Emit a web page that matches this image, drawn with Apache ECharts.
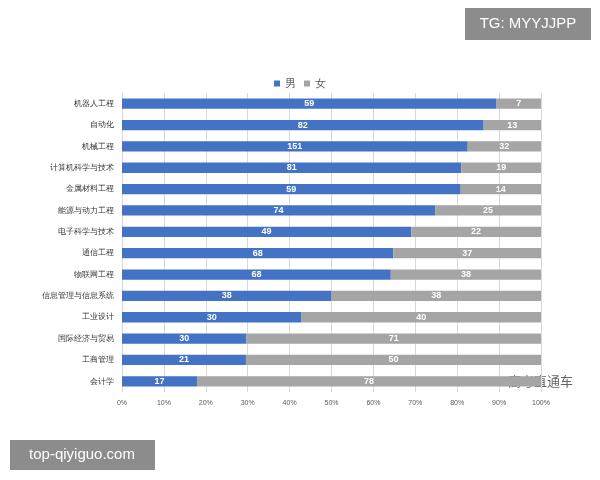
<!DOCTYPE html>
<html>
<head>
<meta charset="utf-8" />
<script src="https://cdn.jsdelivr.net/npm/echarts@6/dist/echarts.min.js"></script>
<style>html,body{margin:0;padding:0;background:#fff}#chart{width:600px;height:480px}</style>
</head>
<body>
<div id="chart"></div>
<script>
var categories = ['机器人工程', '自动化', '机械工程', '计算机科学与技术', '金属材料工程', '能源与动力工程', '电子科学与技术', '通信工程', '物联网工程', '信息管理与信息系统', '工业设计', '国际经济与贸易', '工商管理', '会计学'];
var male = [59, 82, 151, 81, 59, 74, 49, 68, 68, 38, 30, 30, 21, 17];
var female = [7, 13, 32, 19, 14, 25, 22, 37, 38, 38, 40, 71, 50, 78];

function pct(arr, i) { return arr[i] / (male[i] + female[i]) * 100; }
var maleData = male.map(function (v, i) { return { value: pct(male, i), count: v }; });
var femaleData = female.map(function (v, i) { return { value: pct(female, i), count: v }; });

var chart = echarts.init(document.getElementById('chart'));
var lbl = { show: true, position: 'inside', color: '#fff', fontSize: 9, fontWeight: 'bold',
    formatter: function (p) { return p.data.count; } };
chart.setOption({
    animation: false,
    legend: { top: 73, left: 'center', itemWidth: 6, itemHeight: 6, itemGap: 8,
        textStyle: { fontSize: 11, color: '#595959' }, icon: 'rect', data: ['男', '女'] },
    grid: { left: 122, right: 59, top: 93, bottom: 88 },
    xAxis: { type: 'value', min: 0, max: 100, interval: 10,
        axisLabel: { formatter: '{value}%', fontSize: 7, color: '#595959' },
        splitLine: { lineStyle: { color: '#d9d9d9' } } },
    yAxis: { type: 'category', inverse: true, data: categories,
        axisTick: { show: false }, axisLine: { lineStyle: { color: '#d9d9d9' } },
        axisLabel: { fontSize: 8, color: '#333' } },
    series: [
        { name: '男', type: 'bar', stack: 'a', barWidth: '48%', itemStyle: { color: '#4472C4' }, label: lbl, data: maleData },
        { name: '女', type: 'bar', stack: 'a', barWidth: '48%', itemStyle: { color: '#A5A5A5' }, label: lbl, data: femaleData }
    ],
    graphic: [
        { type: 'rect', shape: { x: 465, y: 8, width: 126, height: 32 }, style: { fill: 'rgba(120,120,120,0.85)' } },
        { type: 'text', x: 528, y: 24, style: { text: 'TG: MYYJJPP', fill: '#fff', fontSize: 15, align: 'center', verticalAlign: 'middle' } },
        { type: 'rect', shape: { x: 10, y: 440, width: 145, height: 30 }, style: { fill: 'rgba(120,120,120,0.85)' } },
        { type: 'text', x: 82, y: 455, style: { text: 'top-qiyiguo.com', fill: '#fff', fontSize: 15, align: 'center', verticalAlign: 'middle' } },
        { type: 'text', x: 508, y: 381, style: { text: '高考直通车', fill: '#666', fontSize: 13, align: 'left', verticalAlign: 'middle', fontFamily: 'Noto Sans CJK SC' } }
    ]
});
</script>
</body>
</html>
